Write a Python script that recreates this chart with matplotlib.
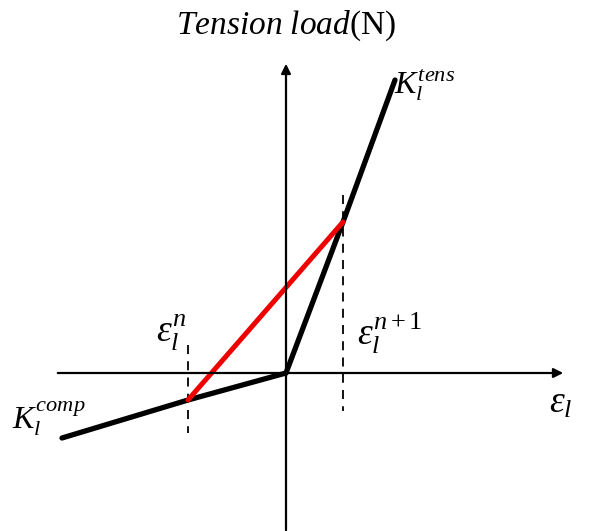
import matplotlib.pyplot as plt

plt.rcParams['mathtext.fontset'] = 'custom'
plt.rcParams['mathtext.rm'] = 'Liberation Serif'
plt.rcParams['mathtext.it'] = 'Liberation Serif:italic'
plt.rcParams['mathtext.bf'] = 'Liberation Serif:bold'

# strain / load points of the bilinear law (arbitrary units)
comp_strain = [-2.24, -0.98, 0.0]
comp_load = [-0.65, -0.27, 0.0]
tens_strain = [0.0, 0.57, 1.09]
tens_load = [0.0, 1.51, 2.93]
secant_strain = [-0.98, 0.57]
secant_load = [-0.27, 1.51]
eps_n = -0.98
eps_n1 = 0.57

fig = plt.figure(figsize=(6.04, 5.31), dpi=100)
ax = fig.add_axes([0, 0, 1, 1])
ax.set_xlim(-2.86, 3.18)
ax.set_ylim(-1.58, 3.73)
ax.axis('off')

# axes with arrows
ax.annotate('', xy=(2.80, 0), xytext=(-2.31, 0),
            arrowprops=dict(arrowstyle='-|>', lw=1.6, color='black', mutation_scale=14))
ax.annotate('', xy=(0, 3.12), xytext=(0, -1.6),
            arrowprops=dict(arrowstyle='-|>', lw=1.6, color='black', mutation_scale=14))

# dashed markers
ax.plot([eps_n, eps_n], [0.28, -0.60], ls=(0, (5, 4)), color='black', lw=1.3)
ax.plot([eps_n1, eps_n1], [1.78, -0.38], ls=(0, (5, 4)), color='black', lw=1.3)

ax.plot(comp_strain, comp_load, color='black', lw=3.8, solid_capstyle='round')
ax.plot(tens_strain, tens_load, color='black', lw=3.8, solid_capstyle='round')
ax.plot(secant_strain, secant_load, color='#ee0000', lw=3.6, solid_capstyle='round')

# labels
ax.text(0.0, 3.47, r'$\mathit{Tension\ load}$(N)', ha='center', va='center',
        fontsize=24, family='Liberation Serif')
ax.text(1.08, 2.88, r'$K_l^{tens}$', fontsize=23, ha='left', va='center')
ax.text(-2.74, -0.46, r'$K_l^{comp}$', fontsize=23, ha='left', va='center')
ax.text(-1.30, 0.40, r'$\varepsilon_l^n$', fontsize=27, ha='left', va='center')
ax.text(0.71, 0.40, r'$\varepsilon_l^{n+1}$', fontsize=27, ha='left', va='center')
ax.text(2.63, -0.30, r'$\varepsilon_l$', fontsize=27, ha='left', va='center')

fig.savefig('out.png', dpi=100)
